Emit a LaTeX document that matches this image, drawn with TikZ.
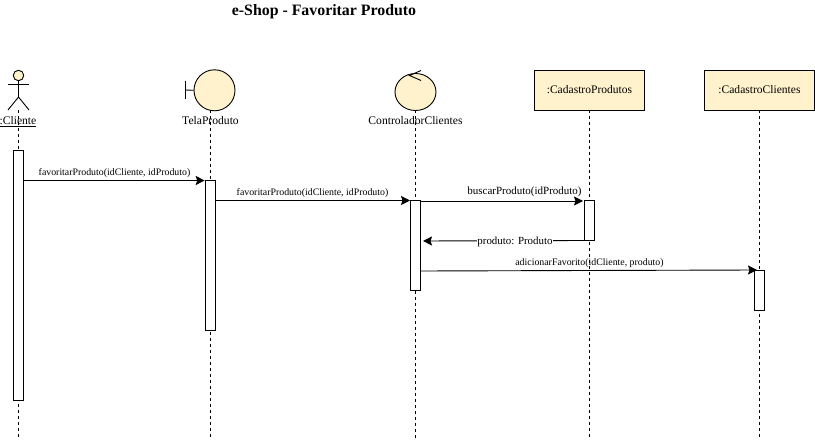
\documentclass[tikz,border=0pt]{standalone}
\usepackage{fontspec}
\setmainfont{Liberation Serif}
\usetikzlibrary{arrows.meta,shapes.geometric}
\definecolor{umlfill}{HTML}{FFF2CC}
\tikzset{
  x=1pt,y=-1pt,
  every node/.style={inner sep=0pt,outer sep=0pt},
  life/.style={draw=black,line width=0.9pt,dash pattern=on 3pt off 3pt},
  activation/.style={draw=black,fill=white,line width=0.9pt,minimum width=10pt,anchor=north},
  objbox/.style={draw=black,fill=umlfill,line width=0.9pt,minimum width=110pt,minimum height=40pt,font=\fontsize{11.55}{14}\selectfont},
  roundobj/.style={circle,draw=black,fill=umlfill,line width=0.9pt,minimum size=41pt},
  lbl/.style={font=\fontsize{11.6}{14}\selectfont,anchor=center},
  msg/.style={draw=black,line width=0.9pt,-{Stealth[length=9pt,width=9pt,inset=1.5pt]}},
  msgtxt/.style={font=\fontsize{9.85}{11}\selectfont,anchor=center},
  stick/.style={draw=black,line width=0.9pt},
}
\begin{document}
\begin{tikzpicture}
\useasboundingbox (0,0) rectangle (815,441);
\node[font=\bfseries\fontsize{15.85}{18}\selectfont] (title) at (324,12) {e-Shop - Favoritar Produto};

% objects
\node[circle,draw=black,fill=umlfill,line width=0.9pt,minimum size=10.5pt] (head) at (18.5,75.5) {};
\coordinate (hip) at (18.5,97);
\coordinate (armL) at (8,84);
\coordinate (armR) at (29,84);
\coordinate (legL) at (8,110);
\coordinate (legR) at (29,110);
\draw[stick] (head.south) -- (hip);
\draw[stick] (armL) -- (armR);
\draw[stick] (legL) -- (hip) -- (legR);
\node[lbl] (lc) at (18,120.5) {:Cliente};
\coordinate (ulL) at (0,126.5);
\coordinate (ulR) at (36,126.5);
\draw[stick] (ulL) -- (ulR);

\node[roundobj] (tela) at (214.5,90.3) {};
\coordinate (bT) at (185,81);
\coordinate (bB) at (185,99);
\coordinate (bM) at (185,90);
\draw[stick] (bT) -- (bB);
\draw[stick] (bM) -- (tela.west);
\node[lbl] (lt) at (210.5,120.5) {TelaProduto};

\node[ellipse,draw=black,fill=umlfill,line width=0.9pt,minimum width=41pt,minimum height=37pt] (ctrl) at (415.5,92) {};
\coordinate (cA) at (421,70.5);
\coordinate (cB) at (409.5,75.5);
\coordinate (cC) at (421,80.5);
\draw[stick] (cA) -- (cB) -- (cC);
\node[lbl] (lcc) at (415.5,120.5) {ControladorClientes};

\node[objbox] (prod) at (589.5,90) {:CadastroProdutos};
\node[objbox] (cli) at (759.5,90) {:CadastroClientes};

% lifelines
\coordinate (e1) at (18.5,438);
\coordinate (e2) at (210.5,438);
\coordinate (e3) at (415.5,438);
\coordinate (e4) at (589.5,438);
\coordinate (e5) at (759.5,438);
\coordinate (s1) at (18.5,110);
\coordinate (s2) at (210.5,110);
\draw[life] (s1) -- (e1);
\draw[life] (s2) -- (e2);
\draw[life] (ctrl.south) -- (e3);
\draw[life] (prod.south) -- (e4);
\draw[life] (cli.south) -- (e5);

% activations
\node[activation,minimum height=250pt] (a1) at (18.5,150) {};
\node[activation,minimum height=150pt] (a2) at (210.5,180) {};
\node[activation,minimum height=90pt] (a3) at (415.5,200) {};
\node[activation,minimum height=40pt] (a4) at (589.5,200) {};
\node[activation,minimum height=40pt] (a5) at (759.5,270) {};

% messages
\coordinate (m1) at (0,180.5);
\coordinate (m2) at (0,200.5);
\coordinate (m3) at (0,201);
\coordinate (m4) at (0,240.5);
\coordinate (m5) at (0,271);
\coordinate (r4) at (423,241);
\coordinate (t5end) at (757,270);
\draw[msg,shorten >=0.8pt] (a1.east |- m1) -- (a2.west |- m1);
\draw[msg,shorten >=0.5pt] (a2.east |- m2) -- (a3.west |- m2);
\draw[msg,shorten >=1.5pt] (a3.east |- m3) -- (a4.west |- m3);
\draw[msg] (a4.west |- m4) -- (r4);
\draw[msg] (a3.east |- m5) -- (t5end);

\node[msgtxt] (t1) at (114.5,173) {favoritarProduto(idCliente, idProduto)};
\node[msgtxt] (t2) at (312.5,193) {favoritarProduto(idCliente, idProduto)};
\node[font=\fontsize{11}{13}\selectfont] (t3) at (524.5,192) {buscarProduto(idProduto)};
\node[font=\fontsize{10.9}{13}\selectfont,fill=white] (t4) at (515,241.5) {produto: Produto};
\node[msgtxt] (t5) at (589.5,263.5) {adicionarFavorito(idCliente, produto)};
\end{tikzpicture}
\end{document}
